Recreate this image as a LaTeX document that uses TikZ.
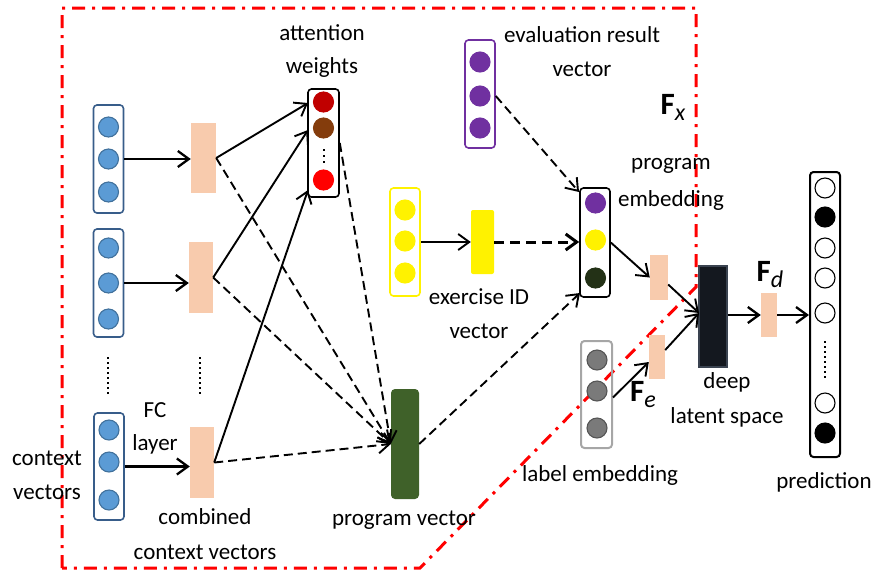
\documentclass[tikz,border=0pt]{standalone}
\usepackage{fontspec}
\setmainfont{Carlito}
\usetikzlibrary{arrows.meta,calc}
\definecolor{peach}{HTML}{F8CBAD}
\definecolor{cblue}{HTML}{5B9BD5}
\definecolor{cblueb}{HTML}{41719C}
\definecolor{boxblue}{HTML}{385D8A}
\definecolor{attA}{HTML}{C00000}
\definecolor{attB}{HTML}{843C0C}
\definecolor{purp}{HTML}{7030A0}
\definecolor{dkgreen}{HTML}{233116}
\definecolor{pvgreen}{HTML}{3F6129}
\definecolor{gcirc}{HTML}{7A7A7A}
\definecolor{gbox}{HTML}{A6A6A6}
\definecolor{deepc}{HTML}{14181F}
\definecolor{deepb}{HTML}{3A4350}
\begin{document}
\begin{tikzpicture}[x=1pt,y=-1pt,
  vecbox/.style={draw, line width=1.6pt, rounded corners=3.5pt, minimum width=30pt, minimum height=108pt, inner sep=0pt},
  unit/.style={circle, minimum size=20pt, inner sep=0pt, line width=1.1pt},
  bar/.style={inner sep=0pt},
  arr/.style={-{Straight Barb[length=11pt,width=16pt]}, line width=1.9pt},
  darr/.style={arr, dash pattern=on 9pt off 5pt},
  lbl/.style={font=\fontsize{23}{23}\selectfont, inner sep=0pt},
  vdots/.style={line width=2.2pt, dash pattern=on 2pt off 3pt},
  boundary/.style={red, line width=3pt, dash pattern=on 13pt off 7pt on 3pt off 7pt}
]
\useasboundingbox (0,0) rectangle (875,574);

% red boundary
\draw[boundary] (62,568) -- (62,8) -- (696,8) -- (696,287) -- (420,568) -- cycle;

% context vectors
\node[vecbox, draw=boxblue] (b1) at (108.5,159) {};
\node[unit, fill=cblue, draw=cblueb] (c11) at (108.5,127) {};
\node[unit, fill=cblue, draw=cblueb] (c12) at (108.5,159) {};
\node[unit, fill=cblue, draw=cblueb] (c13) at (108.5,192) {};
\node[vecbox, draw=boxblue] (b2) at (108.5,283) {};
\node[unit, fill=cblue, draw=cblueb] (c21) at (108.5,248) {};
\node[unit, fill=cblue, draw=cblueb] (c22) at (108.5,283) {};
\node[unit, fill=cblue, draw=cblueb] (c23) at (108.5,319) {};
\node[vecbox, draw=boxblue, minimum height=107pt] (b3) at (109,466.5) {};
\node[unit, fill=cblue, draw=cblueb] (c31) at (109,430) {};
\node[unit, fill=cblue, draw=cblueb] (c32) at (109,462) {};
\node[unit, fill=cblue, draw=cblueb] (c33) at (109,500) {};
\draw[vdots] (108,357) -- (108,394);
\draw[vdots] (200,357) -- (200,394);

% FC outputs
\node[bar, fill=peach, minimum width=25pt, minimum height=70pt] (r1) at (203.5,158) {};
\node[bar, fill=peach, minimum width=24pt, minimum height=71pt] (r2) at (201,277.5) {};
\node[bar, fill=peach, minimum width=24pt, minimum height=71pt] (r3) at (202,462.5) {};
\draw[arr, line width=2.3pt] (b1.east) -- (b1.east -| r1.west);
\draw[arr, line width=2.3pt] (b2.east) -- (b2.east -| r2.west);
\draw[arr, line width=2.3pt] (b3.east) -- (b3.east -| r3.west);

% attention weights
\node[vecbox, draw=black, minimum width=31pt] (att) at (323.5,143) {};
\node[unit, fill=attA, draw=attA] (a1) at (323.5,102) {};
\node[unit, fill=attB, draw=attB] (a2) at (323.5,128) {};
\node[unit, fill=red, draw=red] (a3) at (323.5,180) {};
\draw[line width=2pt, dash pattern=on 2pt off 4pt] (323.5,149) -- (323.5,163);
\coordinate (ain1) at (308,103);
\coordinate (ain2) at (308,130);
\coordinate (ain3) at (308,190);
\draw[arr] (r1.east) -- (ain1);
\draw[arr] (r2.east) -- (ain2);
\draw[arr] (r3.east) -- (ain3);

% program vector
\node[bar, fill=pvgreen, rounded corners=4pt, minimum width=28pt, minimum height=110pt] (pv) at (405,444) {};
\draw[darr] (r1.east) -- (pv.west);
\draw[darr] (r2.east) -- (pv.west);
\draw[darr] (att.east) -- (pv.west);
\draw[darr] (r3.east) -- (pv.west);

% evaluation result vector
\node[vecbox, draw=purp] (ev) at (480,94) {};
\node[unit, fill=purp, draw=purp] (e1) at (480,62) {};
\node[unit, fill=purp, draw=purp] (e2) at (480,96) {};
\node[unit, fill=purp, draw=purp] (e3) at (480,128) {};

% exercise ID
\node[vecbox, draw=yellow] (yb) at (405,242) {};
\node[unit, fill=yellow, draw=yellow] (y1) at (405,210) {};
\node[unit, fill=yellow, draw=yellow] (y2) at (405,241) {};
\node[unit, fill=yellow, draw=yellow] (y3) at (405,273) {};
\node[bar, fill=yellow, rounded corners=2pt, minimum width=23pt, minimum height=64pt] (yr) at (482.5,242) {};
\draw[arr] (yb.east) -- (yr.west);

% program embedding
\node[vecbox, draw=black, minimum height=109pt] (emb) at (595,242.5) {};
\node[unit, fill=purp, draw=purp] (m1) at (595.5,203) {};
\node[unit, fill=yellow, draw=yellow] (m2) at (595.5,240) {};
\node[unit, fill=dkgreen, draw=dkgreen] (m3) at (595.5,278) {};
\coordinate (embin1) at (579,192);
\coordinate (embin3) at (580,293);
\draw[darr] (ev.east |- e2) -- (embin1);
\draw[darr, line width=3pt, dash pattern=on 10pt off 6pt] (yr.east) -- (yr.east -| emb.west);
\draw[darr] (pv.east) -- (embin3);

% projections
\node[bar, fill=peach, minimum width=18pt, minimum height=45pt] (p1) at (659,277.5) {};
\draw[arr] (emb.east) -- (p1.west);

\node[vecbox, draw=gbox, line width=2pt, minimum width=31pt, minimum height=107pt] (lb) at (596.5,394.5) {};
\node[unit, fill=gcirc, draw=gcirc!70!black] (l1) at (597,360) {};
\node[unit, fill=gcirc, draw=gcirc!70!black] (l2) at (597,391) {};
\node[unit, fill=gcirc, draw=gcirc!70!black] (l3) at (597,428) {};
\node[bar, fill=peach, minimum width=16pt, minimum height=44pt] (p2) at (657,357) {};
\draw[arr] ($(lb.east)+(0,3)$) -- ($(p2.west)+(0,5)$);

% deep latent space
\node[draw=deepb, line width=1.5pt, fill=deepc, inner sep=0pt, minimum width=28pt, minimum height=101pt] (deep) at (713,316.5) {};
\coordinate (din) at (699,313);
\draw[arr] ($(p1.east)+(0,7)$) -- (din);
\draw[arr] ($(p2.east)+(0,-7)$) -- (din);

\node[bar, fill=peach, minimum width=16pt, minimum height=44pt] (p3) at (769,315) {};
\draw[arr, line width=2.3pt] (deep.east |- p3.west) -- (p3.west);

% prediction
\node[vecbox, draw=black, line width=2pt, minimum height=285pt] (pred) at (825,314.5) {};
\node[unit, fill=white, draw=black] (o1) at (825,188) {};
\node[unit, fill=black, draw=black] (o2) at (825,217) {};
\node[unit, fill=white, draw=black] (o3) at (825,248) {};
\node[unit, fill=white, draw=black] (o4) at (825,278) {};
\node[unit, fill=white, draw=black] (o5) at (825,313) {};
\node[unit, fill=white, draw=black] (o6) at (825,403) {};
\node[unit, fill=black, draw=black] (o7) at (825,433) {};
\draw[vdots] (825,341) -- (825,378);
\draw[arr, line width=2.3pt] (p3.east) -- (p3.east -| pred.west);

% labels
\node[lbl] (t1) at (322,33) {attention};
\node[lbl] (t2) at (322,67) {weights};
\node[lbl] (t3) at (582,35) {evaluation result};
\node[lbl] (t4) at (582,69) {vector};
\node[inner sep=0pt] (fx) at (673,107) {{\fontsize{31}{31}\selectfont\bfseries F}\raisebox{-6pt}{\fontsize{24}{24}\selectfont\itshape x}};
\node[lbl] (t5) at (671,166) {program};
\node[lbl] (t6) at (671,200) {embedding};
\node[inner sep=0pt] (fd) at (770,275) {{\fontsize{31}{31}\selectfont\bfseries F}\raisebox{-6pt}{\fontsize{24}{24}\selectfont\itshape d}};
\node[lbl] (t7) at (479,297) {exercise ID};
\node[lbl] (t8) at (479,331) {vector};
\node[inner sep=0pt] (fe) at (643,395) {{\fontsize{31}{31}\selectfont\bfseries F}\raisebox{-6pt}{\fontsize{24}{24}\selectfont\itshape e}};
\node[lbl] (t9) at (727,382) {deep};
\node[lbl] (t10) at (727,417) {latent space};
\node[lbl] (t11) at (600,475) {label embedding};
\node[lbl] (t12) at (824,482) {prediction};
\node[lbl] (t13) at (404,520) {program vector};
\node[lbl] (t14) at (155,410) {FC};
\node[lbl] (t15) at (155,444) {layer};
\node[lbl] (t16) at (47,458) {context};
\node[lbl] (t17) at (47,492) {vectors};
\node[lbl] (t18) at (205,517) {combined};
\node[lbl] (t19) at (205,552) {context vectors};
\end{tikzpicture}
\end{document}
